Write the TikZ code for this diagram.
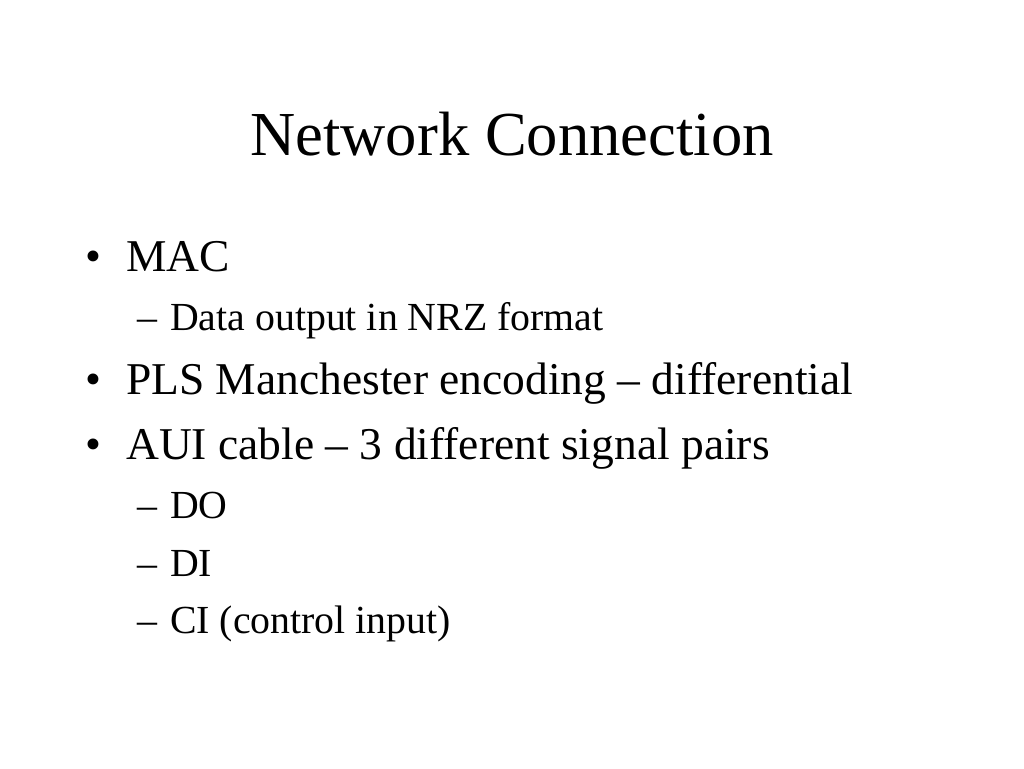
\documentclass[tikz,border=0pt]{standalone}
\usepackage{fontspec}
\setmainfont{Liberation Serif}
\begin{document}
\begin{tikzpicture}[x=1pt,y=-1pt,
  title/.style={anchor=base,inner sep=0pt,font=\fontsize{62.6}{70}\selectfont},
  lone/.style={anchor=base west,inner sep=0pt,font=\fontsize{45.5}{50}\selectfont},
  ltwo/.style={anchor=base west,inner sep=0pt,font=\fontsize{39.8}{44}\selectfont}]
\useasboundingbox[fill=white] (0,0) rectangle (1024,768);
\node[title] (t) at (512,155) {Network Connection};
% level 1
\node[lone] (b1) at (85,271) {•};
\node[lone] (l1) at (126,271) {MAC};
\node[lone] (b2) at (85,394) {•};
\node[lone] (l2) at (126,394) {PLS Manchester encoding – differential};
\node[lone] (b3) at (85,459) {•};
\node[lone] (l3) at (126,459) {AUI cable – 3 different signal pairs};
% level 2
\node[ltwo] (d1) at (137,330) {–};
\node[ltwo] (s1) at (170,330) {Data output in NRZ format};
\node[ltwo] (d2) at (137,518) {–};
\node[ltwo] (s2) at (170,518) {DO};
\node[ltwo] (d3) at (137,576) {–};
\node[ltwo] (s3) at (170,576) {DI};
\node[ltwo] (d4) at (137,633) {–};
\node[ltwo] (s4) at (170,633) {CI (control input)};
\end{tikzpicture}
\end{document}
